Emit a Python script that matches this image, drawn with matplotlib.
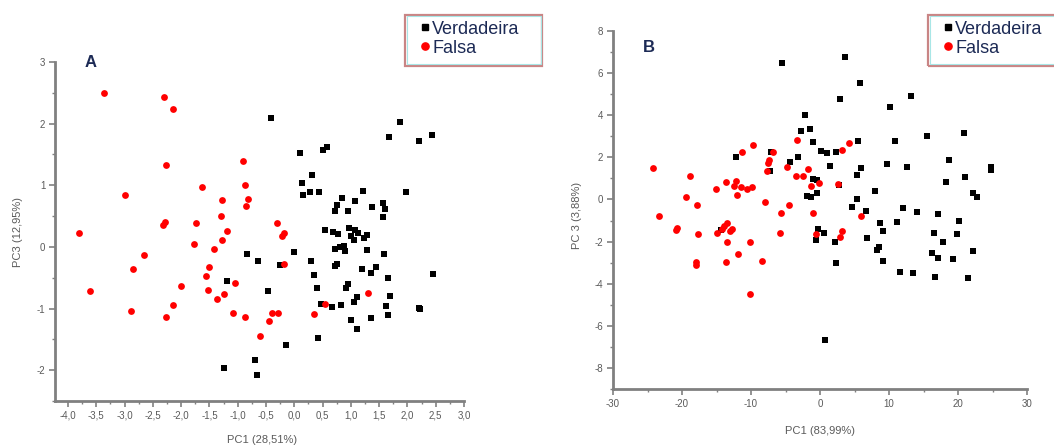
import matplotlib
matplotlib.use("Agg")
import matplotlib.pyplot as plt
from matplotlib.patches import Rectangle
from matplotlib.lines import Line2D
from matplotlib.ticker import MultipleLocator, FuncFormatter

plt.rcParams['font.family'] = ['Liberation Sans', 'DejaVu Sans']

# ---------------- Panel A data (PC1 vs PC3) ----------------
a_true_x = [-0.41, 1.87, 1.68, 2.21, 2.43, 0.10, 0.51, 0.57, 0.32, 0.14, 0.16, 0.28, 0.44,
            0.85, 1.21, 1.97, 0.75, 0.72, 1.07, 0.95, 1.38, 1.56, 1.60, 1.56, 0.54, 0.69,
            0.78, 0.97, 1.07, 1.01, 1.05, 1.28, 1.23, 1.13, 0.00, 0.72, 0.81, 0.87, 0.90,
            1.29, 1.59, 0.29, 0.72, 0.75, 1.20, 1.44, 1.36, 0.34, 1.66, 2.46, 0.41, 0.95,
            0.92, 1.10, 1.06, 1.70, 0.48, 0.66, 0.83, 1.63, 2.22, 2.20, 1.66, 1.00, 1.35,
            1.11, 0.42, -0.84, -0.64, -0.25, -1.19, -0.47, -0.14, -0.69, -0.66, -1.24]
a_true_y = [2.09, 2.03, 1.79, 1.72, 1.82, 1.53, 1.57, 1.62, 1.16, 1.04, 0.84, 0.89, 0.89,
            0.80, 0.91, 0.89, 0.68, 0.59, 0.74, 0.59, 0.64, 0.71, 0.62, 0.49, 0.27, 0.24,
            0.21, 0.30, 0.27, 0.17, 0.11, 0.20, 0.15, 0.23, -0.08, -0.04, 0.00, 0.01, -0.07,
            -0.05, -0.11, -0.23, -0.31, -0.28, -0.36, -0.32, -0.43, -0.45, -0.51, -0.44, -0.66, -0.60,
            -0.66, -0.81, -0.89, -0.80, -0.93, -0.98, -0.94, -0.96, -1.01, -0.99, -1.10, -1.18, -1.15,
            -1.33, -1.47, -0.11, -0.23, -0.30, -0.55, -0.72, -1.59, -1.84, -2.08, -1.96]

a_false_x = [-3.36, -2.30, -2.15, -2.27, -0.90, -3.00, -1.64, -0.87, -1.27, -0.81, -0.85, -1.30,
             -0.30, -3.81, -3.61, -2.85, -2.66, -2.89, -2.32, -2.29, -2.27, -2.14, -2.01, -1.77,
             -1.74, -1.56, -1.50, -1.53, -1.42, -1.37, -1.27, -1.19, -1.25, -1.05, -1.08, -0.88,
             -0.61, -0.45, -0.40, -0.28, -0.19, -0.22, -0.19, 0.35, 0.54, 1.30]
a_false_y = [2.49, 2.43, 2.24, 1.33, 1.39, 0.85, 0.97, 1.00, 0.76, 0.78, 0.67, 0.50,
             0.39, 0.22, -0.71, -0.36, -0.13, -1.04, 0.35, 0.40, -1.13, -0.94, -0.64, 0.04,
             0.38, -0.47, -0.32, -0.70, -0.04, -0.84, 0.11, 0.25, -0.76, -0.58, -1.07, -1.13,
             -1.45, -1.21, -1.07, -1.07, 0.23, 0.17, -0.28, -1.09, -0.92, -0.75]

# ---------------- Panel B data (PC1 vs PC3) ----------------
b_true_x = [-5.56, 3.58, 5.81, 2.90, -2.22, -2.70, -1.45, -0.96, 5.57, 0.20, 0.97, 2.38,
            -12.2, -7.1, -7.26, -4.35, -3.19, 1.45, 5.91, 5.43, -0.96, -0.45, -1.83, -1.25,
            -0.38, 2.76, 5.43, 4.64, 6.73, -14.4, -0.29, 0.58, -0.62, 2.13, 6.78, 2.28,
            13.26, 10.21, 20.9, 15.44, 10.89, 18.68, 9.78, 12.68, 24.77, 24.77, 21.04, 18.24,
            7.94, 22.12, 22.70, 11.96, 14.03, 17.04, 20.13, 11.23, 8.75, 9.14, 16.46, 19.80,
            8.23, 8.48, 17.85, 16.17, 17.13, 19.22, 22.12, 9.06, 11.61, 13.50, 16.65, 21.39, 0.73]
b_true_y = [6.49, 6.75, 5.53, 4.77, 4.02, 3.23, 3.34, 2.71, 2.76, 2.31, 2.19, 2.27,
            2.01, 2.25, 1.36, 1.79, 2.00, 1.60, 1.49, 1.17, 0.97, 0.93, 0.18, 0.14,
            0.29, 0.68, 0.00, -0.38, -0.57, -1.45, -1.38, -1.57, -1.93, -2.04, -1.85, -3.02,
            4.91, 4.37, 3.18, 3.03, 2.79, 1.87, 1.68, 1.52, 1.52, 1.40, 1.05, 0.81,
            0.41, 0.33, 0.10, -0.41, -0.58, -0.69, -1.04, -1.09, -1.10, -1.49, -1.57, -1.62,
            -2.40, -2.28, -2.04, -2.55, -2.76, -2.83, -2.47, -2.94, -3.43, -3.51, -3.67, -3.74, -6.68]

b_false_x = [-24.24, -18.77, -23.27, -19.39, -17.79, -15.14, -13.59, -12.24, -12.48, -11.99,
             -11.51, -10.54, -9.81, -11.26, -9.72, -8.03, -7.69, -7.49, -7.40, -6.76, -5.70,
             -4.83, -4.50, -3.28, -3.53, -2.41, -1.74, -1.25, -0.96, -0.15, 4.21, 3.25, 2.61,
             6.00, -13.54, -13.93, -14.27, -14.99, -13.06, -12.71, -17.65, -5.81, -0.62, 3.25,
             2.86, -13.44, -10.16, -11.84, -17.94, -17.94, -13.69, -8.36, -10.16, -20.7, -20.8]
b_false_y = [1.49, 1.13, -0.79, 0.13, -0.27, 0.52, 0.81, 0.89, 0.65, 0.21,
             0.57, 0.48, 0.60, 2.27, 2.60, -0.12, 1.35, 1.71, 1.87, 2.27, -0.63,
             1.52, -0.27, 2.82, 1.13, 1.13, 1.44, 0.65, -0.62, 0.76, 2.66, 2.35, 0.73,
             -0.77, -1.12, -1.25, -1.41, -1.60, -1.49, -1.41, -1.62, -1.57, -1.62, -1.49,
             -1.77, -2.01, -2.01, -2.59, -2.99, -3.10, -2.96, -2.91, -4.47, -1.36, -1.45]

legend_labels = ["Verdadeira", "Falsa"]
panel_letters = ["A", "B"]
xlabels = ["PC1 (28,51%)", "PC1 (83,99%)"]
ylabels = ["PC3 (12,95%)", "PC 3 (3,88%)"]

W, H = 1054, 448
fig = plt.figure(figsize=(W / 100, H / 100), dpi=100)

AX_COL = '#808080'
TXT_COL = '#5a5a5a'
NAVY = '#1c2a55'


def px_rect(l, t, r, b):
    return [l / W, 1 - b / H, (r - l) / W, (b - t) / H]


def comma_fmt(dec):
    def f(v, pos):
        s = f"{v:.{dec}f}"
        if s.startswith('-0') and float(s) == 0:
            s = s[1:]
        return s.replace('.', ',')
    return FuncFormatter(f)


def style(ax):
    for s in ['top', 'right']:
        ax.spines[s].set_visible(False)
    for s in ['left', 'bottom']:
        ax.spines[s].set_color(AX_COL)
        ax.spines[s].set_linewidth(2.0)
    ax.tick_params(which='major', direction='out', length=4, width=1.2, color=AX_COL,
                   labelsize=7, labelcolor=TXT_COL, pad=3)
    ax.tick_params(which='minor', direction='out', length=2.5, width=1.0, color=AX_COL)


axA = fig.add_axes(px_rect(55, 62, 464, 401))
axB = fig.add_axes(px_rect(613, 31, 1027, 389))

for ax, tx, ty, fx, fy in [(axA, a_true_x, a_true_y, a_false_x, a_false_y),
                           (axB, b_true_x, b_true_y, b_false_x, b_false_y)]:
    ax.scatter(tx, ty, marker='s', s=18, c='black', linewidths=0, zorder=3)
    ax.scatter(fx, fy, marker='o', s=24, c='#ff0000', linewidths=0, zorder=3)
    style(ax)

axA.set_xlim(-4.23, 3.0)
axA.set_ylim(-2.5, 3.0)
axA.xaxis.set_major_locator(MultipleLocator(0.5))
axA.xaxis.set_minor_locator(MultipleLocator(0.25))
axA.yaxis.set_major_locator(MultipleLocator(1))
axA.yaxis.set_minor_locator(MultipleLocator(0.5))
axA.xaxis.set_major_formatter(comma_fmt(1))
axA.yaxis.set_major_formatter(comma_fmt(0))

axB.set_xlim(-30, 30)
axB.set_ylim(-9, 8)
axB.xaxis.set_major_locator(MultipleLocator(10))
axB.xaxis.set_minor_locator(MultipleLocator(5))
axB.yaxis.set_major_locator(MultipleLocator(2))
axB.yaxis.set_minor_locator(MultipleLocator(1))
axB.xaxis.set_major_formatter(comma_fmt(0))
axB.yaxis.set_major_formatter(comma_fmt(0))

# axis labels
fig.text(262 / W, 1 - 440 / H, xlabels[0], ha='center', va='center', fontsize=8, color=TXT_COL)
fig.text(18 / W, 1 - 232 / H, ylabels[0], ha='center', va='center', fontsize=8, color=TXT_COL,
         rotation=90)
fig.text(820 / W, 1 - 431 / H, xlabels[1], ha='center', va='center', fontsize=8, color=TXT_COL)
fig.text(577 / W, 1 - 215 / H, ylabels[1], ha='center', va='center', fontsize=8, color=TXT_COL,
         rotation=90)

# panel letters
fig.text(91 / W, 1 - 62 / H, panel_letters[0], ha='center', va='center', fontsize=12,
         fontweight='bold', color=NAVY)
fig.text(649 / W, 1 - 47 / H, panel_letters[1], ha='center', va='center', fontsize=12,
         fontweight='bold', color=NAVY)

# legends
handles = [Line2D([], [], marker='s', ls='none', color='black', markersize=4.5),
           Line2D([], [], marker='o', ls='none', color='#ff0000', markersize=5.2)]


def add_legend(l, t, r, b):
    fig.patches.append(Rectangle((l / W, 1 - b / H), (r - l) / W, (b - t) / H,
                                 transform=fig.transFigure, fill=False,
                                 edgecolor='#c98585', linewidth=1.6, zorder=5))
    fig.patches.append(Rectangle(((l + 1.5) / W, 1 - (b - 1.5) / H), (r - l - 3) / W,
                                 (b - t - 3) / H, transform=fig.transFigure, fill=False,
                                 edgecolor='#a8e6e6', linewidth=0.8, zorder=5))
    leg = fig.legend(handles, legend_labels, loc='upper left',
                     bbox_to_anchor=((l + 14) / W, 1 - (t + 4) / H),
                     bbox_transform=fig.transFigure, frameon=False, fontsize=13,
                     handlelength=0.5, handletextpad=0.12, labelspacing=0.1,
                     borderpad=0.1, borderaxespad=0)
    for txt in leg.get_texts():
        txt.set_color(NAVY)
    return leg


add_legend(405, 15, 542, 66)
add_legend(928, 15, 1060, 66)

fig.savefig('out.png', dpi=100)
